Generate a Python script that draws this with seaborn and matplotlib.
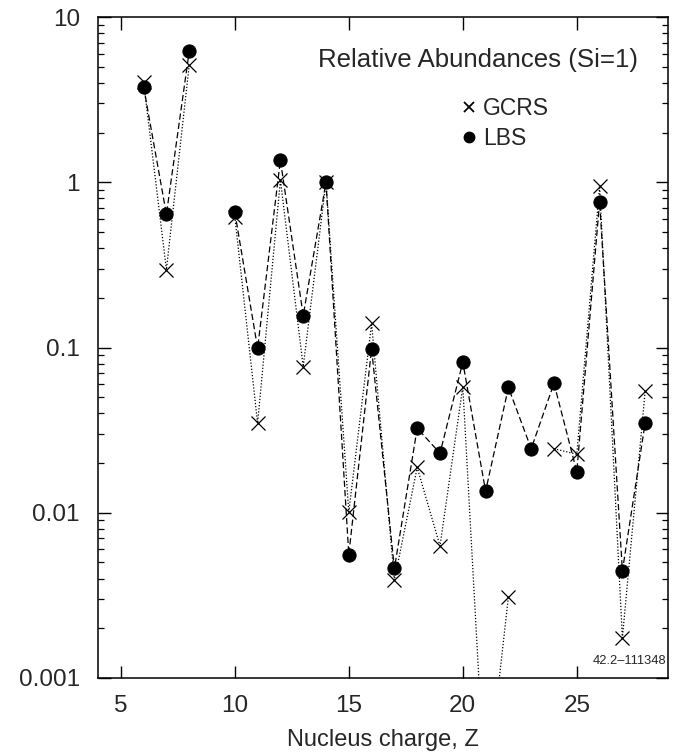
import numpy as np
import pandas as pd
import matplotlib
matplotlib.use("Agg")
import matplotlib.pyplot as plt
from matplotlib.lines import Line2D
from matplotlib.ticker import LogLocator, FixedLocator, NullFormatter, FixedFormatter
import seaborn as sns

# ---- data ----
Z = [6, 7, 8, 9, 10, 11, 12, 13, 14, 15, 16, 17, 18, 19, 20, 21, 22, 23, 24, 25, 26, 27, 28]
gcrs = [4.05, 0.296, 5.1, np.nan, 0.62, 0.0348, 1.03, 0.0767, 1.0, 0.0101, 0.140, 0.0039,
        0.0188, 0.0063, 0.058, 0.00018, 0.0031, np.nan, 0.0244, 0.0226, 0.946, 0.00175, 0.0548]
lbs = [3.78, 0.64, 6.2, np.nan, 0.66, 0.099, 1.36, 0.156, 1.0, 0.00558, 0.098, 0.0046,
       0.0325, 0.0229, 0.0815, 0.0135, 0.0573, 0.0244, 0.0608, 0.0177, 0.764, 0.00445, 0.0351]
xticks = [5, 10, 15, 20, 25]
yticks = [0.001, 0.01, 0.1, 1, 10]
ytick_labels = ["0.001", "0.01", "0.1", "1", "10"]


def segments(x, y):
    rows = []
    seg = 0
    for xi, yi in zip(x, y):
        if np.isnan(yi):
            seg += 1
            continue
        rows.append((xi, yi, seg))
    return pd.DataFrame(rows, columns=["Z", "val", "seg"])


df_g = segments(Z, gcrs)
df_l = segments(Z, lbs)

sns.set_style("ticks")
plt.rcParams["font.family"] = ["Liberation Sans", "DejaVu Sans"]

fig = plt.figure(figsize=(6.77, 7.56), dpi=100)
ax = fig.add_axes([98 / 677, 1 - 678 / 756, 570 / 677, 661 / 756])

sns.lineplot(data=df_g, x="Z", y="val", units="seg", estimator=None, ax=ax,
             color="black", lw=0.9, linestyle=(0, (1, 1.5)), marker="x",
             markersize=9.5, markeredgewidth=0.9, markeredgecolor="black")
sns.lineplot(data=df_l, x="Z", y="val", units="seg", estimator=None, ax=ax,
             color="black", lw=0.9, linestyle=(0, (5, 2.5)), marker="o",
             markersize=9.5, markeredgecolor="black", markerfacecolor="black")

ax.set_yscale("log")
ax.set_xlim(4, 29)
ax.set_ylim(0.001, 10)
ax.xaxis.set_major_locator(FixedLocator(xticks))
ax.yaxis.set_major_locator(FixedLocator(yticks))
ax.yaxis.set_major_formatter(FixedFormatter(ytick_labels))
ax.yaxis.set_minor_locator(LogLocator(base=10, subs=np.arange(2, 10)))
ax.yaxis.set_minor_formatter(NullFormatter())

ax.tick_params(which="both", direction="in", top=True, right=True, labelsize=17.5, color="black")
ax.tick_params(which="major", length=9, width=1)
ax.tick_params(which="minor", length=4.5, width=0.9)
ax.tick_params(axis="x", pad=12)
ax.tick_params(axis="y", pad=13)
for s in ax.spines.values():
    s.set_linewidth(1.1)
    s.set_color("black")

ax.set_xlabel("Nucleus charge, Z", fontsize=17, labelpad=9)
ax.set_ylabel("")

ax.text(0.667, 0.935, "Relative Abundances (Si=1)", transform=ax.transAxes,
        ha="center", va="center", fontsize=18.6)

handles = [Line2D([], [], ls="none", marker="x", color="black", markersize=6.5, markeredgewidth=1.3),
           Line2D([], [], ls="none", marker="o", color="black", markersize=7.5)]
ax.legend(handles, ["GCRS", "LBS"], loc="upper left", bbox_to_anchor=(0.625, 0.893),
          frameon=False, fontsize=16.5, handlelength=0.5, handletextpad=0.35,
          labelspacing=0.32, borderaxespad=0)

ax.text(0.9965, 0.016, "42.2\u2013111348", transform=ax.transAxes, ha="right", va="bottom",
        fontsize=9.3)

fig.savefig("out.png", dpi=100)
